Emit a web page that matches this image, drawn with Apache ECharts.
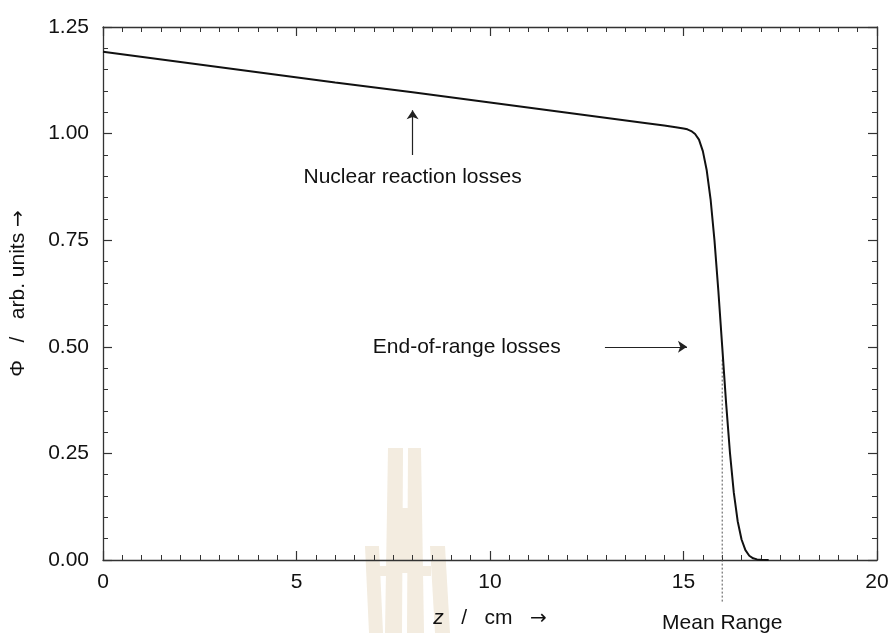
<!DOCTYPE html>
<html>
<head>
<meta charset="utf-8">
<script src="https://cdn.jsdelivr.net/npm/echarts@6/dist/echarts.min.js"></script>
<style>
  html, body { margin: 0; padding: 0; background: #fff; }
  #main { width: 891px; height: 633px; }
</style>
</head>
<body>
<div id="main"></div>
<script>
// depth z (cm) and fluence Phi (arb. units)
const zValues = [0, 2, 4, 6, 8, 10, 12, 14, 14.5, 14.8, 15.0, 15.1, 15.2, 15.3, 15.4, 15.5, 15.6, 15.7, 15.8, 15.9,
  16.0, 16.1, 16.2, 16.3, 16.4, 16.5, 16.6, 16.7, 16.8, 16.9, 17.0, 17.2];
const phiValues = [1.192, 1.168, 1.144, 1.120, 1.097, 1.073, 1.049, 1.025, 1.019, 1.015, 1.012, 1.010, 1.006, 0.999, 0.986, 0.959, 0.914, 0.846, 0.750, 0.632,
  0.501, 0.369, 0.252, 0.158, 0.091, 0.048, 0.023, 0.010, 0.004, 0.0014, 0.0004, 0];

const meanRange = 16.0;
const labelNames = ['Nuclear reaction losses', 'End-of-range losses', 'Mean Range'];
const labelZ = [8.0, 9.4, 16.0];
const labelPhi = [0.898, 0.5, -0.148];
// arrows: [from, to]
const arrowFrom = [[8.0, 0.95], [12.97, 0.5]];
const arrowTo = [[8.0, 1.055], [15.09, 0.5]];

const font = '"Liberation Sans", Arial, Helvetica, sans-serif';
const axisColor = '#333';
const textColor = '#111';

const chart = echarts.init(document.getElementById('main'));

function frameAxis(extra) {
  return Object.assign({
    axisLine: { onZero: false, lineStyle: { color: axisColor, width: 1.3 } },
    axisTick: { inside: true, length: 9, lineStyle: { color: axisColor, width: 1.2 } },
    minorTick: { show: true, length: 5, lineStyle: { color: axisColor, width: 1 } },
    splitLine: { show: false },
    axisLabel: { show: false }
  }, extra);
}

const curve = zValues.map((z, i) => [z, phiValues[i]]);
const arrowRich = { a: { fontFamily: '"DejaVu Sans", sans-serif', fontSize: 20, color: textColor } };

chart.setOption({
  backgroundColor: '#fff',
  animation: false,
  grid: { left: 103, right: 14, top: 27, bottom: 73, containLabel: false, outerBoundsMode: 'none' },
  textStyle: { fontFamily: font },
  xAxis: [
    frameAxis({
      type: 'value', min: 0, max: 20, interval: 5,
      minorTick: { show: true, splitNumber: 10, length: 5, lineStyle: { color: axisColor, width: 1 } },
      axisLabel: { show: true, margin: 12, fontSize: 21, color: textColor, fontFamily: font },
      name: '{i|z}   /   cm   {a|→}', nameLocation: 'middle', nameGap: 48,
      nameTextStyle: {
        fontSize: 21, color: textColor, fontFamily: font,
        rich: Object.assign({ i: { fontStyle: 'italic', fontSize: 21, fontFamily: font, color: textColor } }, arrowRich)
      }
    }),
    frameAxis({
      type: 'value', min: 0, max: 20, interval: 5, position: 'top',
      minorTick: { show: true, splitNumber: 10, length: 5, lineStyle: { color: axisColor, width: 1 } }
    })
  ],
  yAxis: [
    frameAxis({
      type: 'value', min: 0, max: 1.25, interval: 0.25,
      minorTick: { show: true, splitNumber: 5, length: 5, lineStyle: { color: axisColor, width: 1 } },
      axisLabel: { show: true, margin: 14, fontSize: 21, color: textColor, fontFamily: font,
        formatter: v => v.toFixed(2) },
      name: 'Φ   /   arb. units {a|→}', nameLocation: 'middle', nameGap: 74,
      nameTextStyle: { fontSize: 21, color: textColor, fontFamily: font, rich: arrowRich }
    }),
    frameAxis({
      type: 'value', min: 0, max: 1.25, interval: 0.25, position: 'right',
      minorTick: { show: true, splitNumber: 5, length: 5, lineStyle: { color: axisColor, width: 1 } }
    })
  ],
  graphic: [
    // faint watermark behind the plot
    { type: 'group', z: -10, silent: true, children: [
      { type: 'polygon', shape: { points: [[388, 448], [403, 448], [402, 633], [385, 633]] }, style: { fill: '#f3ece0' } },
      { type: 'polygon', shape: { points: [[408, 448], [421, 448], [424, 633], [407, 633]] }, style: { fill: '#f3ece0' } },
      { type: 'rect', shape: { x: 402, y: 508, width: 7, height: 65 }, style: { fill: '#f3ece0' } },
      { type: 'polygon', shape: { points: [[365, 546], [379, 546], [383, 633], [369, 633]] }, style: { fill: '#f3ece0' } },
      { type: 'polygon', shape: { points: [[430, 546], [445, 546], [450, 633], [435, 633]] }, style: { fill: '#f3ece0' } },
      { type: 'rect', shape: { x: 379, y: 566, width: 8, height: 10 }, style: { fill: '#f3ece0' } },
      { type: 'rect', shape: { x: 422, y: 566, width: 9, height: 10 }, style: { fill: '#f3ece0' } }
    ] }
  ],
  series: [
    {
      type: 'line', data: curve, showSymbol: false, smooth: false,
      lineStyle: { color: '#111', width: 2 }, z: 5
    },
    {
      type: 'line', data: [[meanRange, 0.47], [meanRange, -0.1]], showSymbol: false, clip: false,
      lineStyle: { color: '#555', width: 1, type: [2, 2] }, z: 4
    },
    {
      type: 'lines', coordinateSystem: 'cartesian2d',
      symbol: ['none', 'arrow'], symbolSize: 9,
      lineStyle: { color: '#222', width: 1.2, opacity: 1 },
      data: arrowFrom.map((p, i) => ({ coords: [p, arrowTo[i]] }))
    },
    {
      type: 'scatter', symbolSize: 0, clip: false, silent: true,
      data: labelNames.map((n, i) => ({ name: n, value: [labelZ[i], labelPhi[i]] })),
      label: {
        show: true, position: 'inside', formatter: p => p.name,
        fontSize: 21, color: textColor, fontFamily: font, textBorderWidth: 0, opacity: 1
      }
    }
  ]
});
</script>
</body>
</html>
